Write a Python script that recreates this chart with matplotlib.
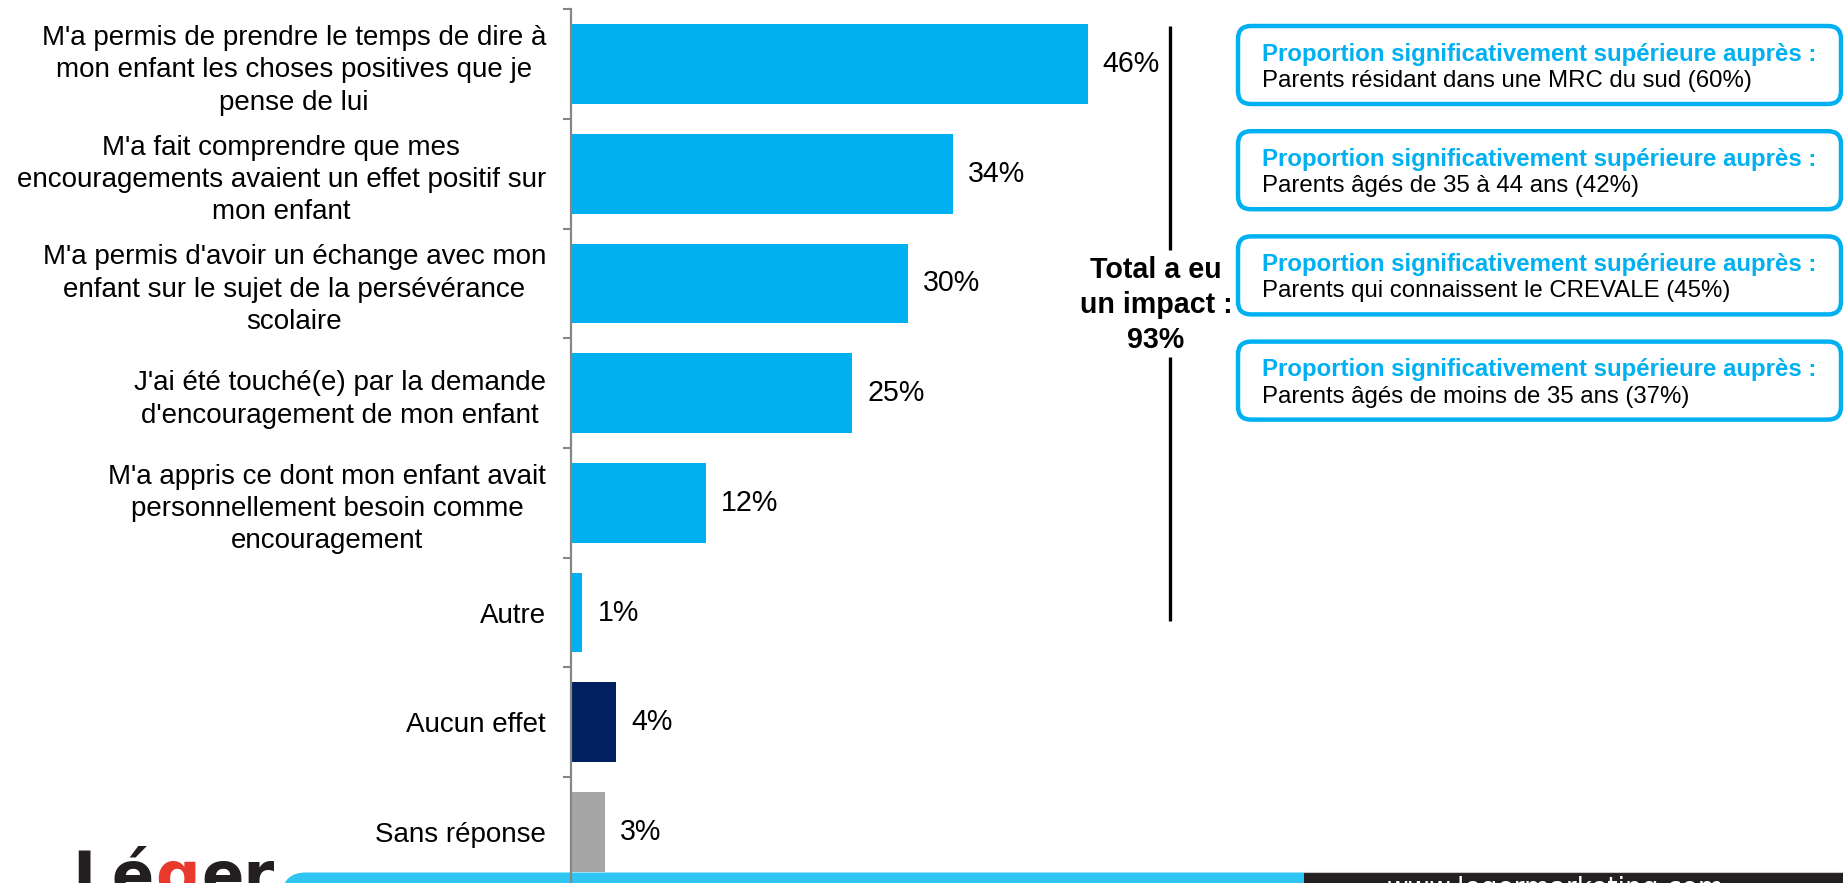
import matplotlib
matplotlib.use("Agg")
import matplotlib.pyplot as plt
from matplotlib.patches import FancyBboxPatch, Rectangle
import numpy as np

plt.rcParams['font.family'] = ['Liberation Sans', 'DejaVu Sans']

# ---------------- data ----------------
categories = [
    "M'a permis de prendre le temps de dire à\nmon enfant les choses positives que je\npense de lui",
    "M'a fait comprendre que mes\nencouragements avaient un effet positif sur\nmon enfant",
    "M'a permis d'avoir un échange avec mon\nenfant sur le sujet de la persévérance\nscolaire",
    "J'ai été touché(e) par la demande\nd'encouragement de mon enfant",
    "M'a appris ce dont mon enfant avait\npersonnellement besoin comme\nencouragement",
    "Autre",
    "Aucun effet",
    "Sans réponse",
]
values = [46, 34, 30, 25, 12, 1, 4, 3]
bar_colors = ["#00b0f0"] * 6 + ["#002060", "#a6a6a6"]
total_impact = 93
box_title = "Proportion significativement supérieure auprès :"
box_texts = [
    "Parents résidant dans une MRC du sud (60%)",
    "Parents âgés de 35 à 44 ans (42%)",
    "Parents qui connaissent le CREVALE (45%)",
    "Parents âgés de moins de 35 ans (37%)",
]

W, H = 1843, 883
fig = plt.figure(figsize=(W / 100, H / 100), dpi=100)
fig.patch.set_facecolor("white")

# overlay axes in pixel coordinates (origin top-left)
ov = fig.add_axes([0, 0, 1, 1], zorder=-1)
ov.set_xlim(0, W)
ov.set_ylim(H, 0)
ov.axis("off")

# ---------------- main bar axes ----------------
ax_left, ax_right = 571, 571 + 11.23 * 50
ax_top, ax_bot = 9.3, 886.7
ax = fig.add_axes([ax_left / W, 1 - ax_bot / H, (ax_right - ax_left) / W, (ax_bot - ax_top) / H])
ax.patch.set_visible(False)

n = len(categories)
y = np.arange(n)
ax.barh(y, values, height=0.725, color=bar_colors, zorder=2)
ax.set_xlim(0, 50)
ax.set_ylim(n - 0.5, -0.5)

for yi, v in zip(y, values):
    ax.annotate(f"{v}%", xy=(v, yi), xytext=(11, 0), textcoords="offset points",
                va="center", ha="left", fontsize=20.6, color="black")

for s in ["top", "right", "bottom"]:
    ax.spines[s].set_visible(False)
ax.spines["left"].set_color("#868686")
ax.spines["left"].set_linewidth(1.6)
ax.xaxis.set_visible(False)
ax.set_yticks(y)
ax.set_yticklabels(categories, fontsize=20, multialignment="center", linespacing=1.32)
ax.tick_params(axis="y", which="major", length=0, pad=18)
ax.set_yticks(np.arange(n + 1) - 0.5, minor=True)
ax.tick_params(axis="y", which="minor", length=6, width=1.5, color="#868686", direction="out")

# ---------------- total bracket ----------------
ov.plot([1170, 1170], [26, 250], color="black", lw=2.4, solid_capstyle="butt")
ov.plot([1170, 1170], [357, 621], color="black", lw=2.4, solid_capstyle="butt")
ov.text(1156, 305, f"Total a eu\nun impact :\n{total_impact}%", ha="center", va="center",
        fontsize=20.6, fontweight="bold", linespacing=1.33, color="black")

# ---------------- subgroup boxes ----------------
box_top0, box_step, box_h = 26, 105.2, 78
for i, txt in enumerate(box_texts):
    top = box_top0 + i * box_step
    p = FancyBboxPatch((1238, top), 1841 - 1238, box_h,
                       boxstyle="round,pad=0,rounding_size=13",
                       fc="white", ec="#00b0f0", lw=3.2)
    ov.add_patch(p)
    ov.text(1262, top + 28, box_title, ha="left", va="center", fontsize=17.3,
            fontweight="bold", color="#00b0f0")
    ov.text(1262, top + 55, txt, ha="left", va="center", fontsize=17.3, color="black")

# ---------------- footer ----------------
strip = FancyBboxPatch((282, 872.5), 1400 - 282, 60,
                       boxstyle="round,pad=0,rounding_size=24",
                       fc="#2ec5f2", ec="none")
ov.add_patch(strip)
ov.add_patch(Rectangle((1304, 872), W - 1304, 20, fc="#231f20", ec="none"))
ov.plot([1304, W], [872, 872], color="#c8c8c8", lw=0.8)
ov.text(1387, 876, "www.legermarketing.com", ha="left", va="top", fontsize=19,
        color="white", family="DejaVu Sans")

# logo: pieces placed side by side using measured extents
renderer = fig.canvas.get_renderer()
logo_parts = ["Lé", "g", "er"]
logo_cols = ["#231f20", "#e8392c", "#231f20"]
x_cur = 72
inv = ov.transData.inverted()
for part, col in zip(logo_parts, logo_cols):
    t = ov.text(x_cur, 896, part, ha="left", va="baseline", fontsize=45,
                fontweight="bold", color=col, family="DejaVu Sans")
    bb = t.get_window_extent(renderer=renderer)
    x_cur = inv.transform((bb.x1, bb.y0))[0] + 1

fig.savefig("out.png", dpi=100, facecolor="white")
